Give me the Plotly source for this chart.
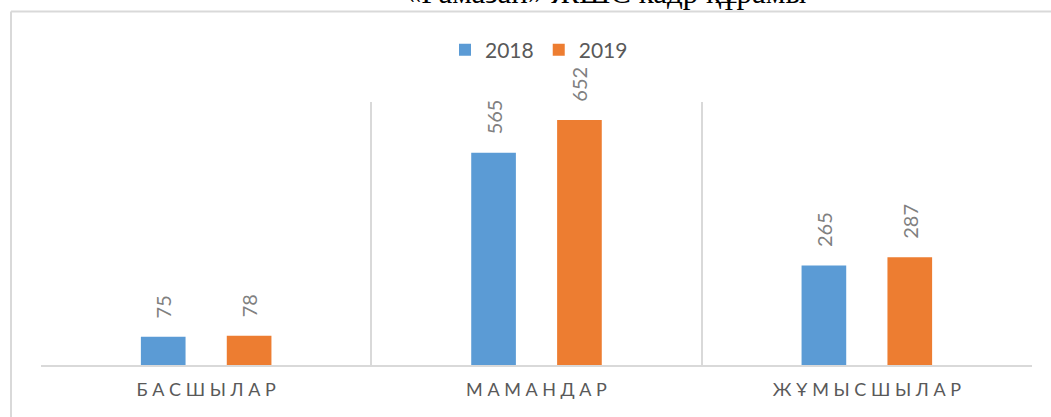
import plotly.graph_objects as go

# ---- data ----
categories = ["БАСШЫЛАР", "МАМАНДАР", "ЖҰМЫСШЫЛАР"]
series_names = ["2018", "2019"]
values_2018 = [75, 565, 265]
values_2019 = [78, 652, 287]
series_colors = ["#5B9BD5", "#ED7D31"]
title_text = "«Рамазан» ЖШС кадр құрамы"
tick_labels = [" ".join(c) for c in categories]  # letter-spaced like the original

# ---- layout constants ----
W, H = 1051, 417
ML, MR, MT, MB = 41, 19, 102, 52
PW, PH = W - ML - MR, H - MT - MB
FONT = "Lato"
GRID = "#d9d9d9"

def px_x(x):
    return (x - ML) / PW

def px_y(y):
    return (H - MB - y) / PH

fig = go.Figure()
for name, vals, col in zip(series_names, [values_2018, values_2019], series_colors):
    fig.add_trace(go.Bar(
        name=name, x=categories, y=vals,
        marker=dict(color=col, line=dict(width=0)),
        texttemplate="\u00a0\u00a0\u00a0%{y}",
        textposition="outside",
        textangle=-90,
        textfont=dict(family=FONT, size=20, color="#808080"),
        cliponaxis=False,
        constraintext="none",
    ))

fig.update_layout(
    width=W, height=H,
    margin=dict(l=ML, r=MR, t=MT, b=MB, pad=0),
    paper_bgcolor="white", plot_bgcolor="white",
    barmode="group", bargap=0.48, bargroupgap=0.48,
    title=dict(text=title_text, font=dict(family="Liberation Serif", size=31, color="black"),
               x=606 / W, xanchor="center",
               yref="container", y=1 - 3 / H, yanchor="bottom"),
    legend=dict(orientation="h", x=px_x(539), xanchor="center", y=px_y(50), yanchor="middle",
                font=dict(family=FONT, size=21, color="#595959"), itemwidth=30,
                bgcolor="rgba(0,0,0,0)"),
    xaxis=dict(showgrid=True, gridcolor=GRID, gridwidth=1.5, tickson="boundaries",
               showline=True, linecolor=GRID, linewidth=1.5, ticks="",
               tickmode="array", tickvals=categories, ticktext=tick_labels,
               tickfont=dict(family=FONT, size=18, color="#595959"), ticklabelstandoff=8),
    yaxis=dict(range=[0, 700], visible=False, showgrid=False),
    showlegend=True,
)

# outer chart frame (top and left edges)
fig.add_shape(type="line", xref="paper", yref="paper", x0=px_x(11), x1=px_x(W + 20),
              y0=px_y(11.5), y1=px_y(11.5), line=dict(color=GRID, width=2), layer="above")
fig.add_shape(type="line", xref="paper", yref="paper", x0=px_x(11), x1=px_x(11),
              y0=px_y(11.5), y1=px_y(H + 20), line=dict(color=GRID, width=2), layer="above")

fig.write_html("out.html", config={"displayModeBar": False},
               post_script="document.body.style.margin='0';")
